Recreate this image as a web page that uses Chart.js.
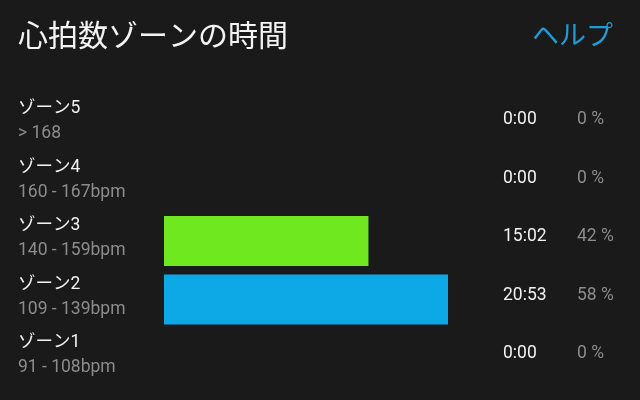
<!DOCTYPE html>
<html>
<head>
<meta charset="utf-8">
<script src="https://cdn.jsdelivr.net/npm/chart.js@4"></script>
<style>
  html, body { margin: 0; padding: 0; background: #1b1a1a; }
  canvas { display: block; }
</style>
</head>
<body>
<canvas id="zoneChart" width="640" height="400"></canvas>
<script>
// 心拍数ゾーン（上から5→1）
var zones = ['ゾーン5', 'ゾーン4', 'ゾーン3', 'ゾーン2', 'ゾーン1'];
var ranges = ['> 168', '160 - 167bpm', '140 - 159bpm', '109 - 139bpm', '91 - 108bpm'];
var seconds = [0, 0, 902, 1253, 0]; // 0:00, 0:00, 15:02, 20:53, 0:00
var zoneColors = ['#e8412c', '#f39a1e', '#6fe81f', '#0da8e6', '#9a9a9a'];

var FONT = "Roboto, 'Noto Sans CJK JP', sans-serif";
var JP = "'Noto Sans CJK JP', Roboto, sans-serif";

function fmtTime(s) {
    var m = Math.floor(s / 60), r = s % 60;
    return m + ':' + (r < 10 ? '0' : '') + r;
}

var total = seconds.reduce(function (a, b) { return a + b; }, 0);

// 背景とテキストを描く
var textPlugin = {
    id: 'zoneText',
    beforeDraw: function (chart) {
        var ctx = chart.ctx;
        ctx.save();
        ctx.fillStyle = '#1b1a1a';
        ctx.fillRect(0, 0, chart.width, chart.height);
        ctx.restore();
    },
    afterDraw: function (chart) {
        var ctx = chart.ctx;
        var y = chart.scales.y;
        ctx.save();
        ctx.textBaseline = 'middle';

        ctx.fillStyle = '#f4f4f4';
        ctx.font = '30px ' + JP;
        ctx.textAlign = 'left';
        ctx.fillText('心拍数ゾーンの時間', 18, 35);

        ctx.fillStyle = '#1f9bd6';
        ctx.font = '27px ' + JP;
        ctx.textAlign = 'right';
        ctx.fillText('ヘルプ', 613, 35);

        ctx.textAlign = 'left';
        zones.forEach(function (z, i) {
            var cy = y.getPixelForValue(i);
            ctx.font = '17.5px ' + FONT;
            ctx.fillStyle = '#f2f2f2';
            ctx.fillText(z, 18, cy - 15);
            ctx.fillStyle = '#8c8c8c';
            ctx.fillText(ranges[i], 18, cy + 10);

            ctx.fillStyle = '#f2f2f2';
            ctx.fillText(fmtTime(seconds[i]), 503, cy - 4);
            ctx.fillStyle = '#8c8c8c';
            var pct = total ? Math.round(seconds[i] / total * 100) : 0;
            ctx.fillText(pct + ' %', 577, cy - 4);
        });
        ctx.restore();
    }
};

var ctx = document.getElementById('zoneChart').getContext('2d');
var chart = new Chart(ctx, {
    type: 'bar',
    data: {
        labels: zones,
        datasets: [{
            data: seconds,
            backgroundColor: zoneColors,
            borderWidth: 0,
            barPercentage: 0.855,
            categoryPercentage: 1
        }]
    },
    options: {
        indexAxis: 'y',
        responsive: false,
        animation: false,
        layout: { padding: { left: 164, right: 192, top: 94.75, bottom: 12.75 } },
        plugins: { legend: { display: false }, tooltip: { enabled: false } },
        scales: {
            x: { display: false, min: 0, max: Math.max.apply(null, seconds) },
            y: { display: false }
        }
    },
    plugins: [textPlugin]
});
</script>
</body>
</html>
